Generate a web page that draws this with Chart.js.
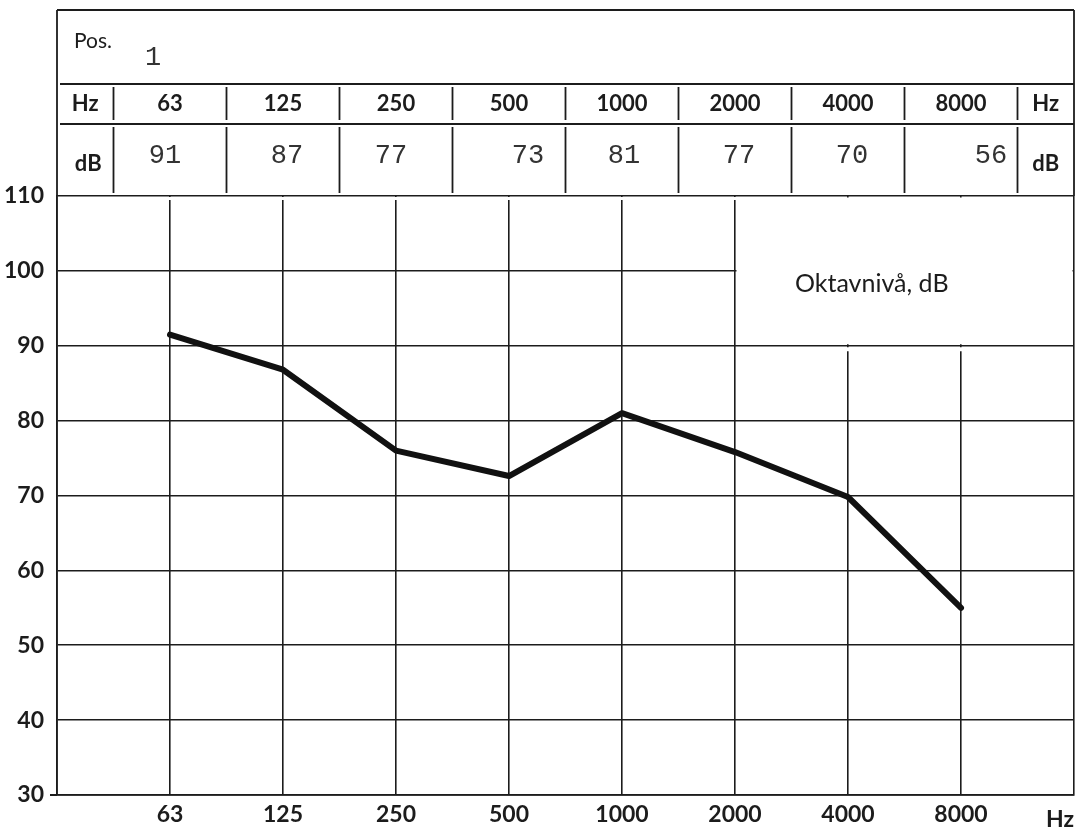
<!DOCTYPE html>
<html>
<head>
<meta charset="utf-8">
<script src="https://cdn.jsdelivr.net/npm/chart.js@4.4.1/dist/chart.umd.min.js"></script>
<style>
  html, body { margin: 0; padding: 0; background: #fff; }
  #wrap { width: 1080px; height: 832px; }
</style>
</head>
<body>
<div id="wrap"><canvas id="octave-chart" width="1080" height="832"></canvas></div>
<script>
// octave bands and the levels typed in the table
const freqLabels = ['63', '125', '250', '500', '1000', '2000', '4000', '8000'];
const tableLevels = ['91', '87', '77', '73', '81', '77', '70', '56'];
// levels as plotted on the curve
const plottedLevels = [91.5, 86.8, 76, 72.6, 81, 75.8, 69.8, 55];
const posLabel = '1';
const yMin = 30;
const yMax = 110;

// typewriter values are not centred in their cells (px shift)
const typedShift = [-5, 4, -5, 19, 2, 4, 4, 30];

const ink = '#1c1c1c';
const sansFont = 'Lato, "Open Sans", sans-serif';
const monoFont = '"Liberation Mono", "DejaVu Sans Mono", monospace';

const points = plottedLevels.map((v, i) => ({ x: i + 1, y: v }));

const sheetPlugin = {
  id: 'sheet',
  beforeDatasetsDraw(chart) {
    const ctx = chart.ctx;
    const xs = chart.scales.x;
    const ys = chart.scales.y;
    // blank box for the caption (top right corner of the grid)
    const l = xs.getPixelForValue(6);
    const r = xs.getPixelForValue(9);
    const t = ys.getPixelForValue(110);
    const b = ys.getPixelForValue(90);
    ctx.save();
    ctx.fillStyle = '#fff';
    ctx.fillRect(l + 1.5, t + 1.5, r - l - 3, b - t - 3);
    // 4000 / 8000 lines start a little below the 90 line
    ctx.fillRect(l + 1.5, b + 1.5, r - l - 3, 4);
    // vertical lines below 110 start with a small gap
    ctx.fillRect(xs.left + 2, t + 1, l - xs.left + 1, 3);
    ctx.restore();
  },
  afterDraw(chart) {
    const ctx = chart.ctx;
    const xs = chart.scales.x;
    const ys = chart.scales.y;
    const left = xs.left;
    const right = xs.right;
    const yTop = 10;
    const yPos = 84;
    const yHz = 124;
    const yDb = ys.getPixelForValue(110);

    ctx.save();
    ctx.strokeStyle = ink;
    ctx.lineWidth = 1.8;
    ctx.beginPath();
    ctx.moveTo(left, yTop); ctx.lineTo(right, yTop);
    ctx.moveTo(left + 3, yPos); ctx.lineTo(right, yPos);
    ctx.moveTo(left + 3, yHz); ctx.lineTo(right, yHz);
    ctx.moveTo(left, yTop); ctx.lineTo(left, yDb);
    ctx.moveTo(right, yTop); ctx.lineTo(right, yDb);
    // bottom axis pokes out a bit on the left
    ctx.moveTo(left - 7, ys.bottom); ctx.lineTo(left, ys.bottom);
    for (let i = 0; i <= 8; i++) {
      const x = xs.getPixelForValue(i + 0.5);
      ctx.moveTo(x, yPos + 3); ctx.lineTo(x, yHz - 4);
      ctx.moveTo(x, yHz + 3); ctx.lineTo(x, yDb - 3);
    }
    ctx.stroke();

    ctx.fillStyle = ink;
    ctx.textBaseline = 'middle';
    ctx.font = '21px ' + sansFont;
    ctx.textAlign = 'left';
    ctx.fillText('Pos.', left + 17, 41);
    ctx.font = '27px ' + monoFont;
    ctx.fillStyle = '#333';
    ctx.fillText(posLabel, left + 88, 58);

    ctx.fillStyle = ink;
    ctx.font = 'bold 22px ' + sansFont;
    ctx.textAlign = 'center';
    const hzMid = (yPos + yHz) / 2;
    const dbMid = (yHz + yDb) / 2;
    ctx.fillText('Hz', xs.getPixelForValue(0.25), hzMid);
    ctx.fillText('Hz', xs.getPixelForValue(8.75), hzMid);
    ctx.fillText('dB', xs.getPixelForValue(0.25) + 3, dbMid + 4);
    ctx.fillText('dB', xs.getPixelForValue(8.75), dbMid + 4);
    freqLabels.forEach((f, i) => {
      ctx.fillText(f, xs.getPixelForValue(i + 1), hzMid);
    });

    ctx.font = '27px ' + monoFont;
    ctx.fillStyle = '#333';
    tableLevels.forEach((v, i) => {
      ctx.fillText(v, xs.getPixelForValue(i + 1) + typedShift[i], dbMid - 4);
    });

    ctx.fillStyle = ink;
    ctx.font = '25px ' + sansFont;
    ctx.textAlign = 'left';
    ctx.fillText('Oktavnivå, dB', xs.getPixelForValue(6) + 60, ys.getPixelForValue(98.3));

    ctx.font = 'bold 23px ' + sansFont;
    ctx.textAlign = 'right';
    ctx.fillText('Hz', right, ys.bottom + 25);
    ctx.restore();
  },
};

const config = {
  type: 'line',
  data: {
    datasets: [
      {
        label: 'Oktavnivå, dB',
        data: points,
        borderColor: '#111',
        backgroundColor: '#111',
        borderWidth: 6,
        borderJoinStyle: 'round',
        borderCapStyle: 'round',
        pointRadius: 0,
        tension: 0,
        fill: false,
      },
    ],
  },
  options: {
    responsive: false,
    animation: false,
    layout: {
      padding: { top: 196, right: 3, left: 0, bottom: 0 },
    },
    plugins: {
      legend: { display: false },
      tooltip: { enabled: false },
    },
    scales: {
      x: {
        type: 'linear',
        min: 0,
        max: 9,
        afterFit: (scale) => { scale.height = 37; },
        ticks: {
          stepSize: 1,
          autoSkip: false,
          maxRotation: 0,
          color: ink,
          padding: 6,
          font: { family: sansFont, size: 23, weight: 'bold' },
          callback: (v) => (v >= 1 && v <= 8 ? freqLabels[v - 1] : ''),
        },
        grid: {
          color: ink,
          lineWidth: 1.6,
          drawTicks: false,
        },
        border: { color: ink, width: 1.8 },
      },
      y: {
        min: yMin,
        max: yMax,
        afterFit: (scale) => { scale.width = 57; },
        ticks: {
          stepSize: 10,
          color: ink,
          padding: 13,
          font: { family: sansFont, size: 23, weight: 'bold' },
        },
        grid: {
          color: ink,
          lineWidth: 1.6,
          drawTicks: false,
        },
        border: { color: ink, width: 1.8 },
      },
    },
  },
  plugins: [sheetPlugin],
};

const ctx = document.getElementById('octave-chart').getContext('2d');
window.octaveChart = new Chart(ctx, config);
</script>
</body>
</html>
